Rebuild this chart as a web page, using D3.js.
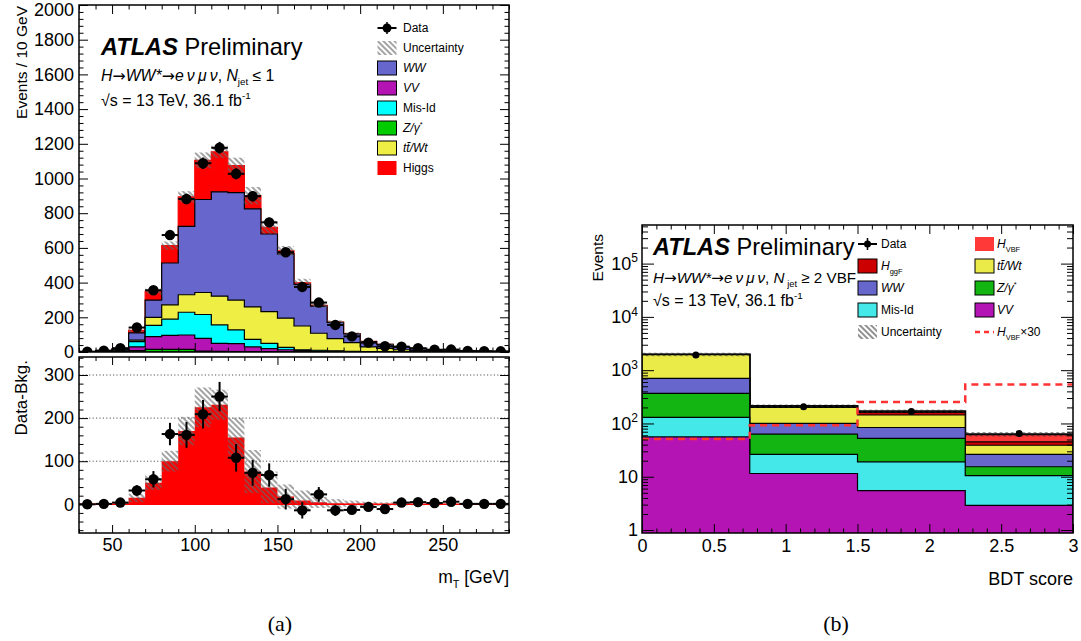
<!DOCTYPE html>
<html><head><meta charset="utf-8">
<script src="https://cdn.jsdelivr.net/npm/d3@7/dist/d3.min.js"></script>
<style>
body{margin:0;background:#fff;}
svg text{font-family:"Liberation Sans",Arial,Helvetica,sans-serif;}
</style></head><body>
<svg id="chart" width="1081" height="641" xmlns="http://www.w3.org/2000/svg"></svg>
<script>
// ---------------- (a) m_T distribution, 10 GeV bins ----------------
const mtEdges = [30,40,50,60,70,80,90,100,110,120,130,140,150,160,170,180,190,200,210,220,230,240,250,260,270,280,290];
const mtData    = [2,8,22,141,356,674,882,1088,1177,1027,898,747,575,375,285,156,90,54,33,31,22,13,14,6,5,4];
const mtDataErr = [1.5,2.8,4.7,12,19,26,30,33,34,32,30,27,24,19,17,13,10,7.5,6,5.5,4.7,3.6,3.7,2.4,2.2,2];
const mtZ     = [0.2,0.8,2.5,8,15,15,15,5,4,3,3,2,2,1,1,0.5,0.3,0.2,0.2,0.1,0.1,0,0,0,0,0];
const mtVV    = [0.3,1.2,4.5,22,74,81,83,74,46,45,26,17,11,7,4,3,2,1,1,0.5,0.3,0.2,0.1,0.1,0.1,0.1];
const mtMisId = [0.3,1.2,4.5,30,65,93,131,137,106,79,44,31,14,5,5,3,2,1,0.8,0.5,0.3,0.2,0.1,0.1,0.1,0.1];
const mtTop   = [0.4,1,2,8,45,83,101,127,166,172,187,183,168,137,98,71,50,27,19,12,8,5,3.8,2,1.5,1];
const mtWW    = [0.8,2.8,4.5,42,100,241,394,536,601,620,565,447,370,240,156,93,50,31,23,14,8.5,4.5,4,2.6,2.2,1.8];
const mtHiggs = [0.1,0.3,1,15,50,100,170,225,231,155,76,39,18,9,4.5,2,1.5,1,0.5,0.3,0.2,0.1,0.1,0,0,0];
const mtUnc   = [1,2,3,10,17,24,33,46,35,46,50,37,28,23,13,10,7,5,4,3,2.5,2,1.5,1,1,1];
const mtDiff  = [0,1,4,32,58,163,161,209,250,108,73,68,12,-14,23,-14,-13,-6,-11,4,5,3,6,1,1,1];
const mtYTicks   = [0,200,400,600,800,1000,1200,1400,1600,1800,2000];
const diffYTicks = [0,100,200,300];
const mtXTicks   = [50,100,150,200,250];

// ---------------- (b) BDT score, 4 bins (log scale) ----------------
const bdtEdges  = [0,0.75,1.5,2.25,3];
const bdtData   = [1920,206,168,65];
const bdtDataErr= [44,14,13,8];
const bdtVV     = [56,11.5,5.5,2.9];
const bdtMisId  = [74,14.8,13.6,7.6];
const bdtZ      = [237,37,33.5,4.9];
const bdtWW     = [335,37,31.4,10.9];
const bdtTop    = [1248,99.7,60,12.7];
const bdtHggF   = [25,9,17.6,6];
const bdtHVBF   = [1.7,3.1,8.4,18];
const bdtUnc    = [150,15,12,6];
const bdtXTicks = [0,0.5,1,1.5,2,2.5,3];
const bdtYTicks = [1,10,100,1000,10000,100000];

const FONT = '"Liberation Sans", Arial, Helvetica, sans-serif';
const ARROWFONT = '"DejaVu Sans", sans-serif';
const svg = d3.select("#chart");
const defs = svg.append("defs");
function makeHatch(id, color, sp, w){
  const p = defs.append("pattern").attr("id",id).attr("patternUnits","userSpaceOnUse")
    .attr("width",sp).attr("height",sp).attr("patternTransform","rotate(45)");
  p.append("line").attr("x1",0).attr("x2",sp).attr("y1",sp/2).attr("y2",sp/2)
    .attr("stroke",color).attr("stroke-width",w);
}
makeHatch("hatchL","#666",4,1.2);
makeHatch("hatchR","#222",4,1);
function clip(id,x0,y0,x1,y1){
  defs.append("clipPath").attr("id",id).append("rect").attr("x",x0).attr("y",y0).attr("width",x1-x0).attr("height",y1-y0);
}
function steps(edges, vals){ const p=[]; vals.forEach((v,i)=>{p.push([edges[i],v]);p.push([edges[i+1],v]);}); return p; }
function cumulate(layers){ const out=[]; let acc=layers[0].map(()=>0); layers.forEach(l=>{acc=acc.map((a,i)=>a+l[i]); out.push(acc.slice());}); return out; }

function rich(g, x, y, segs, size, anchor){
  const t = g.append("text").attr("x",x).attr("y",y).attr("font-size",size).attr("fill","#000");
  if(anchor) t.attr("text-anchor",anchor);
  let off=0;
  segs.forEach(s=>{
    const sp=t.append("tspan").text(s.t);
    if(s.i) sp.attr("font-style","italic");
    if(s.b) sp.attr("font-weight","bold");
    if(s.f) sp.style("font-family",s.f);
    let target=0;
    if(s.sub){ sp.attr("font-size",size*0.62); target=size*0.28; }
    if(s.sup){ sp.attr("font-size",size*0.62); target=-size*0.42; }
    if(target!==off){ sp.attr("dy",target-off); off=target; }
  });
  return t;
}
function inAxis(g, axisFn, scale, values, size, fmt, fontSize, pad){
  const ax = axisFn(scale).tickValues(values).tickSizeInner(-size).tickSizeOuter(0)
    .tickPadding(pad==null?5:pad).tickFormat(fmt||(()=>""));
  g.call(ax); g.select(".domain").remove();
  g.attr("font-size",fontSize||18).attr("font-family",FONT);
  g.selectAll(".tick line").attr("stroke","#000").attr("stroke-width",1);
  g.selectAll(".tick text").attr("fill","#000");
  return g;
}
function procSegs(){
  return [{t:"H",i:true},{t:"→",f:ARROWFONT},{t:"WW*",i:true},{t:"→",f:ARROWFONT},{t:"e\u2009ν\u2009μ\u2009ν",i:true}];
}

// ================= Panel (a) =================
const A = {x0:79,x1:509,y0:5,y1:352}, B = {y0:357,y1:533};
const xA = d3.scaleLinear().domain([30,290]).range([A.x0,A.x1]);
const yA = d3.scaleLinear().domain([0,2000]).range([A.y1,A.y0]);
const yB = d3.scaleLinear().domain([-66.6,341.8]).range([B.y1,B.y0]);
clip("clipA",A.x0,A.y0,A.x1,A.y1);
clip("clipB",A.x0,B.y0,A.x1,B.y1);

const layersA = [
  {v:mtZ,c:"#00cc00",s:"#000"},
  {v:mtVV,c:"#b514b5",s:"#000"},
  {v:mtMisId,c:"#00ffff",s:"#000"},
  {v:mtTop,c:"#eeee44",s:"#000"},
  {v:mtWW,c:"#6666cc",s:"#000"},
  {v:mtHiggs,c:"#ff0000",s:"#ff0000"}
];
const cumA = cumulate(layersA.map(l=>l.v));
const gA = svg.append("g").attr("clip-path","url(#clipA)");
const areaA = d3.area().x(d=>xA(d[0])).y0(yA(0)).y1(d=>yA(d[1]));
for(let k=layersA.length-1;k>=0;k--){
  gA.append("path").attr("d",areaA(steps(mtEdges,cumA[k]))).attr("fill",layersA[k].c)
    .attr("stroke",layersA[k].s).attr("stroke-width",1.2);
}
const totA = cumA[cumA.length-1];
gA.selectAll("rect.unc").data(totA).join("rect").attr("class","unc")
  .attr("x",(d,i)=>xA(mtEdges[i])).attr("width",(d,i)=>xA(mtEdges[i+1])-xA(mtEdges[i]))
  .attr("y",(d,i)=>yA(d+mtUnc[i])).attr("height",(d,i)=>yA(d-mtUnc[i])-yA(d+mtUnc[i]))
  .attr("fill","url(#hatchL)");
function drawPoints(g, xs, ys, edges, vals, errs, r, hbar){
  vals.forEach((v,i)=>{
    const cx = xs((edges[i]+edges[i+1])/2);
    if(hbar) g.append("line").attr("x1",xs(edges[i])).attr("x2",xs(edges[i+1])).attr("y1",ys(v)).attr("y2",ys(v)).attr("stroke","#000").attr("stroke-width",2);
    g.append("line").attr("x1",cx).attr("x2",cx).attr("y1",ys(v-errs[i])).attr("y2",ys(v+errs[i])).attr("stroke","#000").attr("stroke-width",2);
    g.append("circle").attr("cx",cx).attr("cy",ys(v)).attr("r",r).attr("fill","#000");
  });
}
drawPoints(gA, xA, yA, mtEdges, mtData, mtDataErr, 5.2, true);

// ratio panel
const gB = svg.append("g").attr("clip-path","url(#clipB)");
diffYTicks.filter(v=>v>0).forEach(v=>{
  gB.append("line").attr("x1",A.x0).attr("x2",A.x1).attr("y1",yB(v)).attr("y2",yB(v))
    .attr("stroke","#555").attr("stroke-width",1).attr("stroke-dasharray","1.2,2.2");
});
const areaB = d3.area().x(d=>xA(d[0])).y0(yB(0)).y1(d=>yB(d[1]));
gB.append("path").attr("d",areaB(steps(mtEdges,mtHiggs))).attr("fill","#ff0000");
gB.selectAll("rect.unc").data(mtHiggs).join("rect").attr("class","unc")
  .attr("x",(d,i)=>xA(mtEdges[i])).attr("width",(d,i)=>xA(mtEdges[i+1])-xA(mtEdges[i]))
  .attr("y",(d,i)=>yB(d+mtUnc[i])).attr("height",(d,i)=>yB(d-mtUnc[i])-yB(d+mtUnc[i]))
  .attr("fill","url(#hatchL)");
gB.append("line").attr("x1",A.x0).attr("x2",A.x1).attr("y1",yB(0)).attr("y2",yB(0)).attr("stroke","#ff0000").attr("stroke-width",1.6);
drawPoints(gB, xA, yB, mtEdges, mtDiff, mtDataErr, 5.2, true);

// frames
svg.append("rect").attr("x",A.x0).attr("y",A.y0).attr("width",A.x1-A.x0).attr("height",A.y1-A.y0).attr("fill","none").attr("stroke","#000").attr("stroke-width",1.5);
svg.append("rect").attr("x",A.x0).attr("y",B.y0).attr("width",A.x1-A.x0).attr("height",B.y1-B.y0).attr("fill","none").attr("stroke","#000").attr("stroke-width",1.5);

// axes (a)
const mtYMinor = d3.range(0,2001,40).filter(v=>v%200!==0);
const mtXMinor = d3.range(30,291,10).filter(v=>v%50!==0);
const diffMinor = d3.range(-60,341,20).filter(v=>v%100!==0);
const gyA = inAxis(svg.append("g").attr("transform",`translate(${A.x0},0)`), d3.axisLeft, yA, mtYTicks, 9, d3.format("d"), 18, 5);
gyA.selectAll(".tick text").filter(d=>d===2000).attr("dy","0.6em");
inAxis(svg.append("g").attr("transform",`translate(${A.x0},0)`), d3.axisLeft, yA, mtYMinor, 4.5);
inAxis(svg.append("g").attr("transform",`translate(${A.x1},0)`), d3.axisRight, yA, mtYTicks, 9);
inAxis(svg.append("g").attr("transform",`translate(${A.x1},0)`), d3.axisRight, yA, mtYMinor, 4.5);
inAxis(svg.append("g").attr("transform",`translate(0,${A.y0})`), d3.axisTop, xA, mtXTicks, 9);
inAxis(svg.append("g").attr("transform",`translate(0,${A.y0})`), d3.axisTop, xA, mtXMinor, 4.5);
inAxis(svg.append("g").attr("transform",`translate(0,${A.y1})`), d3.axisBottom, xA, mtXTicks, 9);
inAxis(svg.append("g").attr("transform",`translate(0,${A.y1})`), d3.axisBottom, xA, mtXMinor, 4.5);
inAxis(svg.append("g").attr("transform",`translate(${A.x0},0)`), d3.axisLeft, yB, diffYTicks, 9, d3.format("d"), 18, 5);
inAxis(svg.append("g").attr("transform",`translate(${A.x0},0)`), d3.axisLeft, yB, diffMinor, 4.5);
inAxis(svg.append("g").attr("transform",`translate(${A.x1},0)`), d3.axisRight, yB, diffYTicks, 9);
inAxis(svg.append("g").attr("transform",`translate(${A.x1},0)`), d3.axisRight, yB, diffMinor, 4.5);
inAxis(svg.append("g").attr("transform",`translate(0,${B.y0})`), d3.axisTop, xA, mtXTicks, 8);
inAxis(svg.append("g").attr("transform",`translate(0,${B.y0})`), d3.axisTop, xA, mtXMinor, 4);
inAxis(svg.append("g").attr("transform",`translate(0,${B.y1})`), d3.axisBottom, xA, mtXTicks, 8, d3.format("d"), 18, 5);
inAxis(svg.append("g").attr("transform",`translate(0,${B.y1})`), d3.axisBottom, xA, mtXMinor, 4);

// titles (a)
svg.append("text").attr("transform","translate(27,6) rotate(-90)").attr("text-anchor","end").attr("font-size",15.5).text("Events / 10 GeV");
svg.append("text").attr("transform","translate(27,360) rotate(-90)").attr("text-anchor","end").attr("font-size",17).text("Data-Bkg.");
rich(svg, A.x1, 583, [{t:"m"},{t:"T",sub:true},{t:" [GeV]"}], 17.5, "end");
rich(svg, 101, 55, [{t:"ATLAS",b:true,i:true},{t:" Preliminary"}], 23.6);
rich(svg, 101, 81, procSegs().concat([{t:", "},{t:"N",i:true},{t:"jet",sub:true},{t:" ≤ 1"}]), 15.8);
rich(svg, 101, 106, [{t:"√s = 13 TeV, 36.1 fb"},{t:"-1",sup:true}], 16);

// legend (a)
const legA = svg.append("g");
const legAItems = [
  {type:"data", segs:[{t:"Data"}]},
  {type:"unc", segs:[{t:"Uncertainty"}]},
  {type:"box", c:"#6666cc", s:"#000", segs:[{t:"WW",i:true}]},
  {type:"box", c:"#b514b5", s:"#000", segs:[{t:"VV",i:true}]},
  {type:"box", c:"#00ffff", s:"#000", segs:[{t:"Mis-Id"}]},
  {type:"box", c:"#00cc00", s:"#000", segs:[{t:"Z/γ",i:true},{t:"*",sup:true}]},
  {type:"box", c:"#eeee44", s:"#000", segs:[{t:"tt\u0304/Wt",i:true}]},
  {type:"box", c:"#ff0000", s:"none", segs:[{t:"Higgs"}]}
];
function legendItem(g, it, x, y, w, h, r){
  if(it.type==="data"){
    g.append("line").attr("x1",x).attr("x2",x+w).attr("y1",y).attr("y2",y).attr("stroke","#000").attr("stroke-width",2);
    g.append("line").attr("x1",x+w/2).attr("x2",x+w/2).attr("y1",y-h/2+1).attr("y2",y+h/2-1).attr("stroke","#000").attr("stroke-width",1.5);
    g.append("circle").attr("cx",x+w/2).attr("cy",y).attr("r",r).attr("fill","#000");
  } else if(it.type==="unc"){
    g.append("rect").attr("x",x).attr("y",y-h/2).attr("width",w).attr("height",h).attr("fill",it.fill||"url(#hatchL)");
  } else if(it.type==="dash"){
    g.append("line").attr("x1",x).attr("x2",x+w).attr("y1",y).attr("y2",y).attr("stroke","#ff3333").attr("stroke-width",2.5).attr("stroke-dasharray","5,4");
  } else {
    g.append("rect").attr("x",x).attr("y",y-h/2).attr("width",w).attr("height",h).attr("fill",it.c).attr("stroke",it.s).attr("stroke-width",1);
  }
}
legAItems.forEach((it,k)=>{
  const y = 28 + 20*k;
  legendItem(legA, it, 377.5, y, 19, 14, 4.5);
  rich(legA, 403, y+4.3, it.segs, 12);
});

// ================= Panel (b) =================
const R = {x0:642,x1:1073,y0:225,y1:533};
const xR = d3.scaleLinear().domain([0,3]).range([R.x0,R.x1]);
const yR = d3.scaleLog().domain([0.88,5.3e5]).range([R.y1,R.y0]);
clip("clipR",R.x0,R.y0,R.x1,R.y1);
const layersR = [
  {v:bdtVV,c:"#b514b5",s:"#000"},
  {v:bdtMisId,c:"#44e8e8",s:"#000"},
  {v:bdtZ,c:"#13b513",s:"#000"},
  {v:bdtWW,c:"#6666cc",s:"#000"},
  {v:bdtTop,c:"#eaea48",s:"#000"},
  {v:bdtHggF,c:"#cc0000",s:"#000"},
  {v:bdtHVBF,c:"#ff3838",s:"#000"}
];
const cumR = cumulate(layersR.map(l=>l.v));
const gR = svg.append("g").attr("clip-path","url(#clipR)");
const areaR = d3.area().x(d=>xR(d[0])).y0(R.y1+5).y1(d=>yR(d[1]));
for(let k=layersR.length-1;k>=0;k--){
  gR.append("path").attr("d",areaR(steps(bdtEdges,cumR[k]))).attr("fill",layersR[k].c)
    .attr("stroke",layersR[k].s).attr("stroke-width",k===layersR.length-1?2:1.2);
}
const totR = cumR[cumR.length-1];
gR.selectAll("rect.unc").data(totR).join("rect").attr("class","unc")
  .attr("x",(d,i)=>xR(bdtEdges[i])).attr("width",(d,i)=>xR(bdtEdges[i+1])-xR(bdtEdges[i]))
  .attr("y",(d,i)=>yR(d+bdtUnc[i])).attr("height",(d,i)=>yR(d-bdtUnc[i])-yR(d+bdtUnc[i]))
  .attr("fill","url(#hatchR)");
const vbf30 = bdtHVBF.map(v=>v*30);
gR.append("path").attr("d",d3.line().x(d=>xR(d[0])).y(d=>yR(d[1]))(steps(bdtEdges,vbf30)))
  .attr("fill","none").attr("stroke","#ff3333").attr("stroke-width",2.5).attr("stroke-dasharray","7,5");
drawPoints(gR, xR, yR, bdtEdges, bdtData, bdtDataErr, 3.5, false);
svg.append("rect").attr("x",R.x0).attr("y",R.y0).attr("width",R.x1-R.x0).attr("height",R.y1-R.y0).attr("fill","none").attr("stroke","#000").attr("stroke-width",1.5);

// axes (b)
const bdtXMinor = d3.range(0,31).map(i=>i/10).filter(v=>Math.abs(v*2-Math.round(v*2))>1e-6);
const bdtYMinor = [];
for(let e=0;e<=5;e++) for(let m=2;m<=9;m++){ const v=m*Math.pow(10,e); if(v<5.3e5) bdtYMinor.push(v); }
const gy = inAxis(svg.append("g").attr("transform",`translate(${R.x0},0)`), d3.axisLeft, yR, bdtYTicks, 12, d=>String(d), 18, 4);
gy.selectAll(".tick text").each(function(d){
  const t=d3.select(this);
  if(d>=100){
    t.text(null);
    t.append("tspan").text("10");
    t.append("tspan").attr("dy",-7.5).attr("font-size",12).text(Math.round(Math.log10(d)));
  }
});
inAxis(svg.append("g").attr("transform",`translate(${R.x0},0)`), d3.axisLeft, yR, bdtYMinor, 6);
inAxis(svg.append("g").attr("transform",`translate(${R.x1},0)`), d3.axisRight, yR, bdtYTicks, 12);
inAxis(svg.append("g").attr("transform",`translate(${R.x1},0)`), d3.axisRight, yR, bdtYMinor, 6);
inAxis(svg.append("g").attr("transform",`translate(0,${R.y1})`), d3.axisBottom, xR, bdtXTicks, 9, d=>String(d), 18, 6);
inAxis(svg.append("g").attr("transform",`translate(0,${R.y1})`), d3.axisBottom, xR, bdtXMinor, 4.5);
inAxis(svg.append("g").attr("transform",`translate(0,${R.y0})`), d3.axisTop, xR, bdtXTicks, 9);
inAxis(svg.append("g").attr("transform",`translate(0,${R.y0})`), d3.axisTop, xR, bdtXMinor, 4.5);

// titles (b)
svg.append("text").attr("transform","translate(603,234) rotate(-90)").attr("text-anchor","end").attr("font-size",15.5).text("Events");
svg.append("text").attr("x",R.x1).attr("y",585).attr("text-anchor","end").attr("font-size",18).text("BDT score");
rich(svg, 653, 255, [{t:"ATLAS",b:true,i:true},{t:" Preliminary"}], 23.6);
rich(svg, 653, 283, procSegs().concat([{t:", "},{t:"N",i:true},{t:" jet",sub:true},{t:" ≥ 2 VBF"}]), 15.2);
rich(svg, 653, 306, [{t:"√s = 13 TeV, 36.1 fb"},{t:"-1",sup:true}], 16);

// legend (b)
const legB = svg.append("g");
const legBItems = [
  [ {type:"data", segs:[{t:"Data"}]},
    {type:"box", c:"#cc0000", s:"#000", segs:[{t:"H",i:true},{t:"ggF",sub:true}]},
    {type:"box", c:"#6666cc", s:"#000", segs:[{t:"WW",i:true}]},
    {type:"box", c:"#44e8e8", s:"#000", segs:[{t:"Mis-Id"}]},
    {type:"unc", fill:"url(#hatchR)", segs:[{t:"Uncertainty"}]} ],
  [ {type:"box", c:"#ff3838", s:"none", segs:[{t:"H",i:true},{t:"VBF",sub:true}]},
    {type:"box", c:"#eaea48", s:"#000", segs:[{t:"tt\u0304/Wt",i:true}]},
    {type:"box", c:"#13b513", s:"#000", segs:[{t:"Z/γ",i:true},{t:"*",sup:true}]},
    {type:"box", c:"#b514b5", s:"#000", segs:[{t:"VV",i:true}]},
    {type:"dash", segs:[{t:"H",i:true},{t:"VBF",sub:true},{t:"×30"}]} ]
];
const colX = [858, 975], txtX = [881, 997];
legBItems.forEach((col,ci)=>col.forEach((it,k)=>{
  const y = 244 + 22*k;
  legendItem(legB, it, colX[ci], y, 19, 14, 3.5);
  rich(legB, txtX[ci], y+4.3, it.segs, 12);
}));

// captions
svg.append("text").attr("x",280).attr("y",631).attr("text-anchor","middle").attr("font-size",22).style("font-family",'"Liberation Serif","DejaVu Serif",serif').text("(a)");
svg.append("text").attr("x",836).attr("y",631).attr("text-anchor","middle").attr("font-size",22).style("font-family",'"Liberation Serif","DejaVu Serif",serif').text("(b)");
</script>
</body></html>
